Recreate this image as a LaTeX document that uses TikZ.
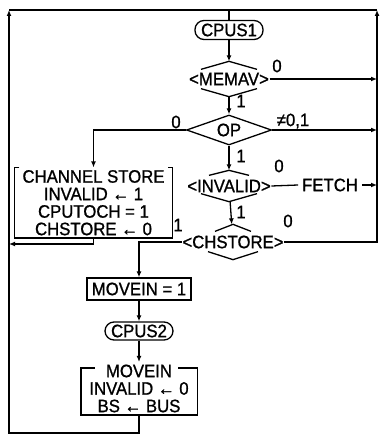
\documentclass[tikz,border=0pt]{standalone}
\usepackage{fontspec}
\setmainfont{Liberation Sans}[FakeStretch=0.93,FakeBold=1]
\usetikzlibrary{arrows.meta,positioning,shapes.geometric}

\begin{document}
\begin{tikzpicture}[x=1pt,y=-1pt,line width=1.3pt,
  font=\fontsize{18}{17.5}\selectfont,
  term/.style={draw,rounded corners=9pt,minimum width=68pt,minimum height=19pt,inner sep=2pt},
  proc/.style={draw,minimum height=22pt,inner sep=3pt},
  panel/.style={align=center,inner xsep=3pt,inner ysep=2pt,anchor=south},
  dec/.style={inner xsep=0pt,inner ysep=0pt},
  opdec/.style={draw,diamond,aspect=2.8,inner sep=0pt,minimum width=85pt,minimum height=30pt},
  lbl/.style={inner sep=0.5pt},
  flow/.style={-{Latex[length=6pt,width=5pt]}}
]
\useasboundingbox (0,0) rectangle (381,438);
% main column
\node[term] (cpus1) at (229,30) {CPUS1};
\node[dec,minimum height=34pt] (memav) at (229,79) {<MEMAV>};
\node[opdec] (op) at (229,130) {OP};
\node[dec,minimum height=30pt] (invalid) at (229,186) {<INVALID>};
\node (fetch) at (330,185) {FETCH};
\node[dec,minimum height=34pt] (chstore) at (233,242) {<CHSTORE>};
% left column
\node[panel,minimum width=157pt] (chbox) at (93.5,238)
  {CHANNEL STORE\\INVALID ← 1\\CPUTOCH = 1\\CHSTORE ← 0};
\node[proc,minimum width=104pt] (movein1) at (139,289) {MOVEIN = 1};
\node[term,minimum height=18pt] (cpus2) at (139,331) {CPUS2};
\node[panel,minimum width=115pt] (mvbox) at (139,415)
  {MOVEIN\\INVALID ← 0\\BS ← BUS};
% branch labels
\node[lbl] (memav0) at (277,66) {0};
\node[lbl] (memav1) at (241,101) {1};
\node[lbl] (op0) at (176,122) {0};
\node[lbl] (opx) at (293,121) {≠0,1};
\node[lbl] (op1) at (241,156) {1};
\node[lbl] (inv0) at (279,166) {0};
\node[lbl] (inv1) at (241,212) {1};
\node[lbl] (chs1) at (178,225) {1};
\node[lbl] (chs0) at (288,221) {0};
% frame corners
\coordinate (tl) at (9,10);
\coordinate (tr) at (377,10);
\coordinate (bl) at (9,433);
% decision roofs
\foreach \n/\a/\b/\h in {memav/28/28/8,invalid/20/28/5,chstore/18/25/7}
  \draw ([shift={(-\a,\h)}]\n.north) -- (\n.north) -- ([shift={(\a,\h)}]\n.north)
        ([shift={(-\b,-8)}]\n.south) -- (\n.south) -- ([shift={(\b,-8)}]\n.south);
% panel borders
\draw ([xshift=5pt]chbox.north west) -- (chbox.north west) -- (chbox.south west)
  -- (chbox.south east) -- (chbox.north east) -- ([xshift=-5pt]chbox.north east);
\draw ([shift={(14,6)}]mvbox.north west) -- ([shift={(0,6)}]mvbox.north west)
  -- (mvbox.south west) -- (mvbox.south east)
  -- ([shift={(0,6)}]mvbox.north east) -- ([shift={(-19,6)}]mvbox.north east);
% connectors
\draw (tl) -- (tr);
\draw (cpus1) -- (cpus1 |- tl);
\draw[flow] (cpus1) -- (memav);
\draw[flow] (memav) -- (op);
\draw[flow] (op) -- (invalid);
\draw[flow] (invalid) -- (chstore);
\draw[flow] (memav.east) -- (memav.east -| tr);
\draw[flow] (op.east) -- (op.east -| tr);
\draw (invalid.east) -- (fetch.west);
\draw[flow] (fetch.east) -- (fetch.east -| tr);
\draw[flow] (op.west) -| (chbox.north);
\draw[flow] (chstore.west) -| (movein1.north);
\draw[flow] (chstore.east) -| (tr);
\draw[flow] (chbox.south) |- ([yshift=-6pt]bl |- chbox.south);
\draw[flow] (movein1) -- (cpus2);
\draw[flow] (cpus2) -- (mvbox);
\draw[flow] (mvbox.south) |- (bl) -- (tl);
\end{tikzpicture}
\end{document}
